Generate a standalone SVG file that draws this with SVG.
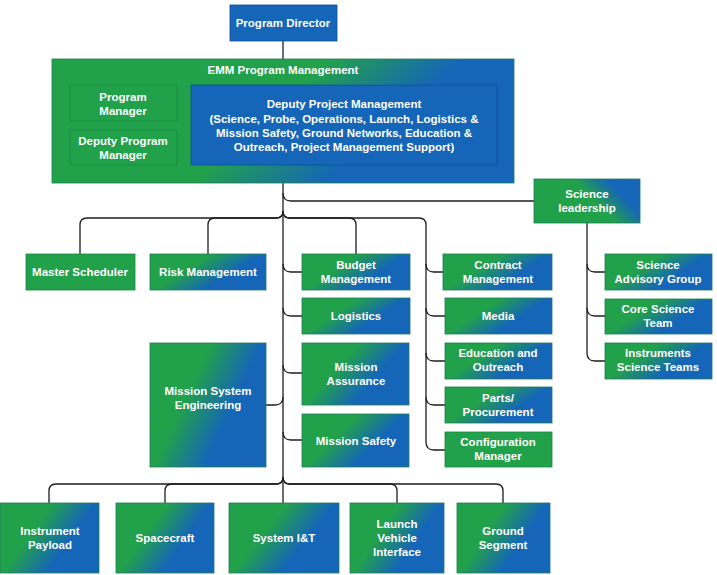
<svg xmlns="http://www.w3.org/2000/svg" width="717" height="575" viewBox="0 0 717 575">
<defs>
<linearGradient id="gb" x1="0" y1="0" x2="1" y2="0.5">
<stop offset="0.42" stop-color="#22a14b"/>
<stop offset="0.78" stop-color="#1565b8"/>
</linearGradient>
<linearGradient id="ge" x1="0" y1="0" x2="1" y2="0.3">
<stop offset="0.55" stop-color="#22a14b"/>
<stop offset="0.82" stop-color="#1565b8"/>
</linearGradient>
<linearGradient id="gs" x1="0" y1="1" x2="1" y2="0.6">
<stop offset="0.66" stop-color="#22a14b"/>
<stop offset="0.94" stop-color="#1565b8"/>
</linearGradient>
<style>
.t{font-family:"Liberation Sans",Arial,sans-serif;font-weight:bold;font-size:11.5px;fill:#fff;text-anchor:middle}
.g{fill:url(#gb);stroke:#1c7d55;stroke-width:0.8}
.gr{fill:#22a14b;stroke:#1a8a3e;stroke-width:0.8}
.bl{fill:#1565b8;stroke:#0f4f96;stroke-width:0.8}
.c{fill:none;stroke:#1e1e1e;stroke-width:1.3}
</style>
</defs>
<rect width="717" height="575" fill="#fff"/>
<g id="connectors">
<path class="c" d="M283,41 V59"/>
<path class="c" d="M283,183 V503"/>
<path class="c" d="M283,193 Q283,201 291,201 H534"/>
<path class="c" d="M283,211 Q283,218 276,218 H87 Q80,218 80,225 V254"/>
<path class="c" d="M283,211 Q283,218 276,218 H215 Q208,218 208,225 V254"/>
<path class="c" d="M283,211 Q283,218 290,218 H349 Q356,218 356,225 V254"/>
<path class="c" d="M283,211 Q283,218 290,218 H419 Q426,218 426,225 V442 Q426,450 434,450 H445"/>
<path class="c" d="M283,264 Q283,272 291,272 H302"/>
<path class="c" d="M283,308 Q283,316 291,316 H302"/>
<path class="c" d="M283,365 Q283,373 291,373 H302"/>
<path class="c" d="M283,432 Q283,440 291,440 H302"/>
<path class="c" d="M266,405 H275 Q283,405 283,397"/>
<path class="c" d="M426,264 Q426,272 434,272 H443"/>
<path class="c" d="M426,308 Q426,316 434,316 H445"/>
<path class="c" d="M426,353 Q426,361 434,361 H445"/>
<path class="c" d="M426,397 Q426,405 434,405 H445"/>
<path class="c" d="M587,223 V353 Q587,361 595,361 H605"/>
<path class="c" d="M587,264 Q587,272 595,272 H605"/>
<path class="c" d="M587,308 Q587,316 595,316 H605"/>
<path class="c" d="M283,477 Q283,484 276,484 H56 Q49,484 49,491 V503"/>
<path class="c" d="M283,477 Q283,484 276,484 H172 Q165,484 165,491 V503"/>
<path class="c" d="M283,477 Q283,484 290,484 H390 Q397,484 397,491 V503"/>
<path class="c" d="M283,477 Q283,484 290,484 H496 Q503,484 503,491 V503"/>
</g>
<g id="program-director"><rect class="bl" x="230" y="5" width="107" height="36"/><text class="t" x="283" y="27" font-size="12">Program Director</text></g>
<g id="emm-program-management"><rect x="52" y="59" width="462" height="124" fill="url(#ge)" stroke="#1c7d55" stroke-width="0.8"/><text class="t" x="283" y="74">EMM Program Management</text></g>
<g id="program-manager"><rect class="gr" x="70" y="85" width="107" height="36" stroke="#17702f"/><text class="t" x="123" y="101">Program</text><text class="t" x="123" y="115">Manager</text></g>
<g id="deputy-program-manager"><rect class="gr" x="70" y="130" width="107" height="35" stroke="#17702f"/><text class="t" x="123" y="145">Deputy Program</text><text class="t" x="123" y="159">Manager</text></g>
<g id="deputy-project-management"><rect class="bl" x="191" y="85" width="306" height="80" stroke="#0d4687"/><text class="t" x="344" y="108" font-size="11.8">Deputy Project Management</text><text class="t" x="344" y="123" font-size="11.8">(Science, Probe, Operations, Launch, Logistics &amp;</text><text class="t" x="344" y="137" font-size="11.8">Mission Safety, Ground Networks, Education &amp;</text><text class="t" x="344" y="151" font-size="11.8">Outreach, Project Management Support)</text></g>
<g id="science-leadership"><rect x="534" y="179" width="106" height="44" fill="url(#gs)" stroke="#1c7d55" stroke-width="0.8"/><text class="t" x="587" y="198">Science</text><text class="t" x="587" y="212">leadership</text></g>
<g id="master-scheduler"><rect class="gr" x="26" y="254" width="109" height="36"/><text class="t" x="80" y="276">Master Scheduler</text></g>
<g id="risk-management"><rect class="g" x="150" y="254" width="116" height="36"/><text class="t" x="208" y="276">Risk Management</text></g>
<g id="budget-management"><rect class="g" x="302" y="254" width="108" height="36"/><text class="t" x="356" y="269">Budget</text><text class="t" x="356" y="283">Management</text></g>
<g id="logistics"><rect class="g" x="302" y="298" width="108" height="36"/><text class="t" x="356" y="320">Logistics</text></g>
<g id="mission-assurance"><rect class="g" x="302" y="343" width="107" height="62"/><text class="t" x="356" y="371">Mission</text><text class="t" x="356" y="385">Assurance</text></g>
<g id="mission-safety"><rect class="g" x="302" y="414" width="107" height="53"/><text class="t" x="356" y="445">Mission Safety</text></g>
<g id="mission-system-engineering"><rect class="g" x="150" y="343" width="116" height="124"/><text class="t" x="208" y="395">Mission System</text><text class="t" x="208" y="409">Engineering</text></g>
<g id="contract-management"><rect class="g" x="443" y="254" width="109" height="36"/><text class="t" x="498" y="269">Contract</text><text class="t" x="498" y="283">Management</text></g>
<g id="media"><rect class="g" x="445" y="298" width="107" height="36"/><text class="t" x="498" y="320">Media</text></g>
<g id="education-outreach"><rect class="g" x="445" y="343" width="107" height="36"/><text class="t" x="498" y="357">Education and</text><text class="t" x="498" y="371">Outreach</text></g>
<g id="parts-procurement"><rect class="g" x="445" y="387" width="107" height="36"/><text class="t" x="498" y="402">Parts/</text><text class="t" x="498" y="416">Procurement</text></g>
<g id="configuration-manager"><rect class="gr" x="445" y="432" width="107" height="35"/><text class="t" x="498" y="446">Configuration</text><text class="t" x="498" y="460">Manager</text></g>
<g id="science-advisory-group"><rect class="g" x="605" y="254" width="107" height="36"/><text class="t" x="658" y="269">Science</text><text class="t" x="658" y="283">Advisory Group</text></g>
<g id="core-science-team"><rect class="g" x="605" y="299" width="107" height="35"/><text class="t" x="658" y="313">Core Science</text><text class="t" x="658" y="327">Team</text></g>
<g id="instruments-science-teams"><rect class="g" x="605" y="343" width="107" height="36"/><text class="t" x="658" y="357">Instruments</text><text class="t" x="658" y="371">Science Teams</text></g>
<g id="instrument-payload"><rect class="g" x="0" y="503" width="99" height="70"/><text class="t" x="50" y="535">Instrument</text><text class="t" x="50" y="549">Payload</text></g>
<g id="spacecraft"><rect class="g" x="116" y="503" width="98" height="70"/><text class="t" x="165" y="542">Spacecraft</text></g>
<g id="system-it"><rect class="g" x="229" y="503" width="110" height="70"/><text class="t" x="284" y="542">System I&amp;T</text></g>
<g id="launch-vehicle-interface"><rect class="g" x="350" y="503" width="94" height="70"/><text class="t" x="397" y="528">Launch</text><text class="t" x="397" y="542">Vehicle</text><text class="t" x="397" y="556">Interface</text></g>
<g id="ground-segment"><rect class="g" x="457" y="503" width="93" height="70"/><text class="t" x="503" y="535">Ground</text><text class="t" x="503" y="549">Segment</text></g>
</svg>
